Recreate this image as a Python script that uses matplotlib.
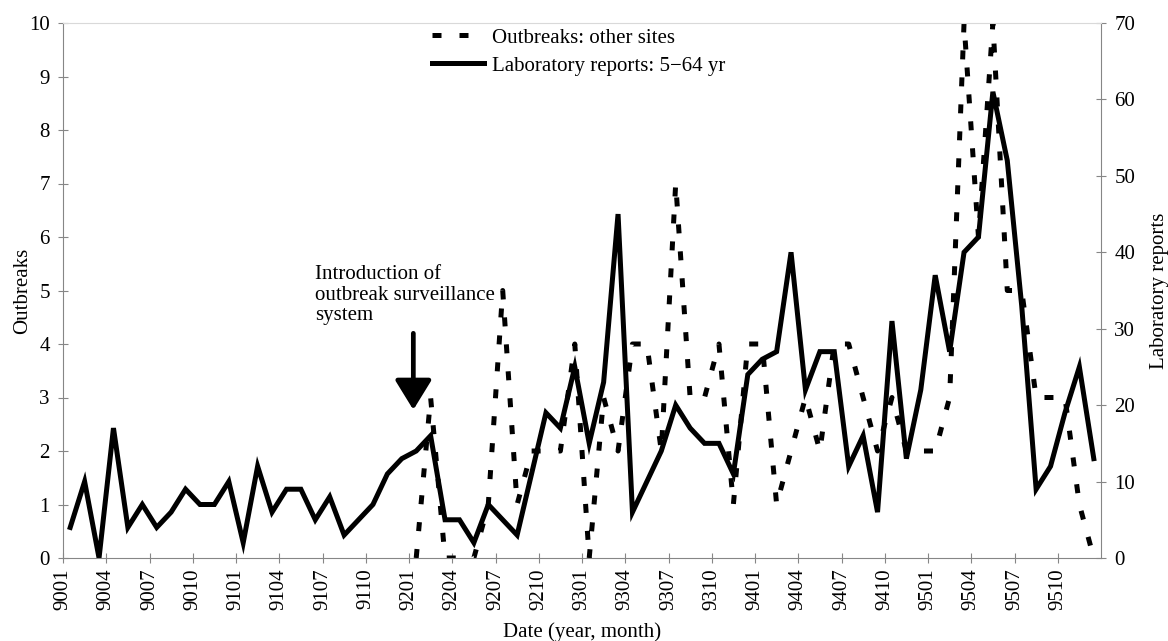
import numpy as np
import matplotlib.pyplot as plt

plt.rcParams['font.family'] = ['Liberation Serif', 'DejaVu Serif']

### data (year+month codes, Jan 1990 - Dec 1995)
months = ['9001', '9002', '9003', '9004', '9005', '9006', '9007', '9008', '9009', '9010', '9011', '9012',
          '9101', '9102', '9103', '9104', '9105', '9106', '9107', '9108', '9109', '9110', '9111', '9112',
          '9201', '9202', '9203', '9204', '9205', '9206', '9207', '9208', '9209', '9210', '9211', '9212',
          '9301', '9302', '9303', '9304', '9305', '9306', '9307', '9308', '9309', '9310', '9311', '9312',
          '9401', '9402', '9403', '9404', '9405', '9406', '9407', '9408', '9409', '9410', '9411', '9412',
          '9501', '9502', '9503', '9504', '9505', '9506', '9507', '9508', '9509', '9510', '9511', '9512']
tick_labels = months[::3]

# laboratory reports 5-64 yr (right axis), all months
lab_reports = [4, 10, 0, 17, 4, 7, 4, 6, 9, 7, 7, 10,
               2, 12, 6, 9, 9, 5, 8, 3, 5, 7, 11, 13,
               14, 16, 5, 5, 2, 7, 5, 3, 11, 19, 17, 25,
               15, 23, 45, 6, 10, 14, 20, 17, 15, 15, 11, 24,
               26, 27, 40, 22, 27, 27, 12, 16, 6, 31, 13, 22,
               37, 27, 40, 42, 61, 52, 33, 9, 12, 19, 25, 13]

# outbreaks at other sites (left axis), surveillance starts 9201
outbreak_start = '9201'
outbreaks = [0, 3, 0, 0, 0, 1, 5, 1, 2, 2, 2, 4,
             0, 3, 2, 4, 4, 2, 7, 3, 3, 4, 1, 4,
             4, 1, 2, 3, 2, 4, 4, 3, 2, 3, 2, 2,
             2, 3, 10, 6, 10, 5, 5, 3, 3, 3, 1, 0]

grey = '#868686'
fs = 15

fig = plt.figure(figsize=(11.68, 6.41), dpi=100)
ax = fig.add_axes([63 / 1168, 1 - 558 / 641, (1101 - 63) / 1168, (558 - 23) / 641])
ax2 = ax.twinx()

x = np.arange(len(months)) + 0.5
start = months.index(outbreak_start)

h_lab, = ax2.plot(x, lab_reports, color='black', lw=3.6, solid_joinstyle='miter')
h_out, = ax.plot(x[start:], outbreaks, color='black', lw=3.6,
                 linestyle=(0, (1.8, 3.6)), dash_capstyle='butt')

# dashed series drawn over the solid one
ax.set_zorder(ax2.get_zorder() + 1)
ax.patch.set_visible(False)

ax.set_xlim(0, len(months))
ax.set_ylim(0, 10)
ax2.set_ylim(0, 70)
ax.set_xticks(np.arange(0, len(months), 3))
ax.set_xticklabels(tick_labels, rotation=90)
ax.set_yticks(range(0, 11))
ax2.set_yticks(range(0, 71, 10))

for s in ['left', 'bottom', 'right']:
    ax.spines[s].set_color(grey)
ax.spines['top'].set_color('#d9d9d9')
for s in ax2.spines.values():
    s.set_visible(False)

ax.tick_params(axis='both', direction='inout', length=7, color=grey, labelsize=fs, pad=4)
ax.tick_params(axis='y', pad=6)
ax2.tick_params(axis='y', direction='inout', length=7, color=grey, labelsize=fs, pad=6)

ax.set_xlabel('Date (year, month)', fontsize=fs)
ax.xaxis.set_label_coords(0.5, -0.12)
ax.set_ylabel('Outbreaks', fontsize=fs)
ax.yaxis.set_label_coords(-0.03, 0.5)
ax2.set_ylabel('Laboratory reports', fontsize=fs, rotation=90)
ax2.yaxis.set_label_coords(1.047, 0.5)

### annotation: start of surveillance
ax.text(17.5, 5.48, 'Introduction of\noutbreak surveillance\nsystem', fontsize=fs,
        ha='left', va='top', linespacing=1.12)
ax.annotate('', xy=(24.3, 2.77), xytext=(24.3, 4.2),
            arrowprops=dict(arrowstyle='-|>,head_width=0.8,head_length=1.3',
                            lw=3.4, color='black', mutation_scale=14,
                            shrinkA=0, shrinkB=0))

ax.legend([h_out, h_lab], ['Outbreaks: other sites', 'Laboratory reports: 5\u221264 yr'],
          loc='upper left', bbox_to_anchor=(432 / 1168, 1 - 28 / 641),
          bbox_transform=fig.transFigure, frameon=False, fontsize=fs,
          handlelength=2.5, handletextpad=0.4, labelspacing=0.4,
          borderpad=0, borderaxespad=0)

fig.savefig('out.png', dpi=100)
